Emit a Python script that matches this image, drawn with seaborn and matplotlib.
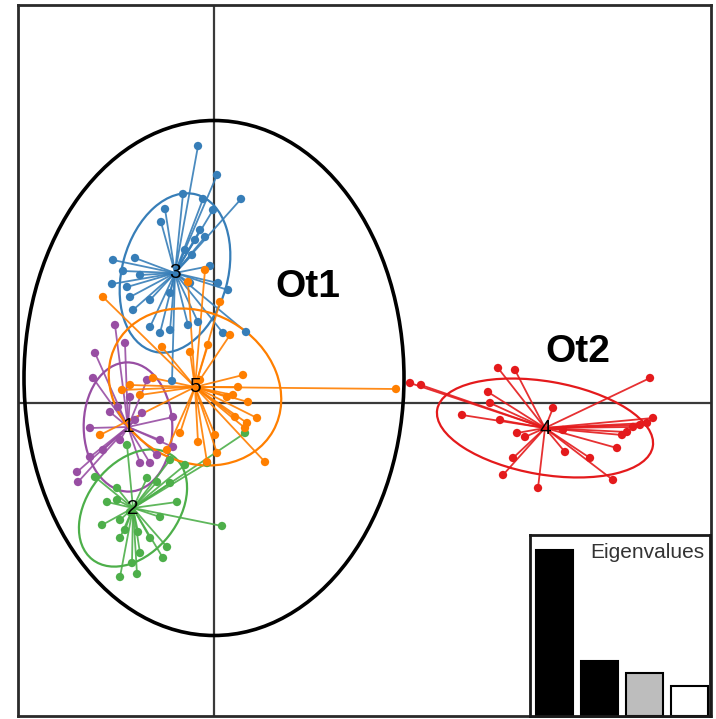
import matplotlib
matplotlib.use("Agg")
import matplotlib.pyplot as plt
from matplotlib.patches import Ellipse
import seaborn as sns
import numpy as np
import pandas as pd

# DAPC scores (LD1, LD2) per group
g1_x = [-11.9, -8.9, -9.9, -12.1, -6.7, -12.4, -4.1, -4.1, -12.4, -13.7, -13.6, -11.1,
        -10.4, -7.2, -5.4, -7.4, -5.7, -9.6, -8.4, -6.4, -9.4, -7.9]
g1_y = [5.0, 6.0, 7.8, 2.5, 2.3, -2.5, -1.4, -4.4, -5.4, -6.9, -7.9, -4.7,
        -0.9, -1.0, -3.7, -6.0, -5.2, -0.4, 0.6, -6.0, -3.7, -1.7]

g2_x = [-9.4, -7.7, -8.2, -5.1, -4.7, -6.4, -11.2, -10.7, -9.7, -3.7, -5.4, 0.8, -11.9, -4.4,
        -2.9, 3.1, -0.7, -8.9, -7.6, -9.4, -8.7, -6.7, -5.7, -9.7, -8.4, -9.4, -7.4, -4.4]
g2_y = [-17.4, -17.1, -16.0, -15.5, -14.4, -13.5, -12.2, -9.9, -9.7, -9.9, -11.4, -12.3, -7.4, -5.7,
        -6.2, -3.0, -6.0, -12.7, -12.9, -13.5, -4.2, -7.5, -7.9, -8.5, -10.9, -11.7, -15.0, -8.0]

g3_x = [-1.6, 0.3, 2.7, -3.1, -1.1, -4.9, -5.3, -0.1, -1.4, -0.9, -1.9, -10.1, -9.1, -7.9, -10.2,
        -8.7, -7.4, -0.4, 0.4, 1.4, -8.4, -6.4, -4.4, -2.4, -8.1, -6.4, -5.4, -4.4, -2.6, -1.6,
        0.9, -4.2, 3.2, -2.9, -2.2]
g3_y = [25.7, 22.8, 20.4, 20.9, 20.4, 19.4, 18.1, 19.3, 17.3, 16.6, 16.3, 14.3, 13.2, 14.5, 11.9,
        11.6, 12.8, 13.7, 12.0, 11.3, 10.6, 10.3, 11.0, 12.0, 9.3, 7.6, 7.0, 7.3, 7.8, 8.1,
        7.0, 2.2, 7.1, 15.3, 14.8]

g4_x = [19.6, 20.7, 28.4, 30.1, 27.4, 27.6, 24.8, 28.6, 33.9, 30.3, 31.1, 43.6, 43.9, 43.3,
        41.3, 40.8, 40.3, 35.1, 37.6, 39.9, 29.9, 28.9, 32.4, 34.9, 41.9, 42.6]
g4_y = [2.0, 1.8, 3.5, 3.3, 1.1, 0.0, -1.2, -1.7, -0.5, -3.0, -3.4, 2.5, -1.5, -2.0,
        -2.9, -3.2, -4.5, -4.9, -5.5, -7.7, -5.5, -7.2, -8.5, -2.7, -2.4, -2.2]

g5_x = [-11.1, 0.6, -0.9, -2.6, 18.2, 2.9, 3.4, 1.9, 2.1, 3.3, 4.3, 3.1, 0.1, 0.3, -0.7, -1.6,
        -3.4, 5.1, -4.7, -5.2, -0.6, -2.4, -9.2, -6.1, -1.4, 1.3, 2.4, -11.4, -7.4, -8.4, 1.6]
g5_y = [10.6, 10.1, 13.3, 12.1, 1.4, 2.8, 0.1, 0.8, -1.4, -2.0, -1.5, -2.5, -3.2, -5.0, -5.9, -3.9,
        -3.0, -5.9, -4.7, 5.6, 5.8, 5.1, 1.3, 2.5, 2.3, 0.6, 1.6, -3.2, 0.8, 1.8, 6.8]

groups = ["1", "2", "3", "4", "5"]
centroid_x = [-8.6, -8.1, -3.9, 33.1, -1.9]
centroid_y = [-2.4, -10.5, 13.0, -2.5, 1.6]

eigenvalues = [100, 33, 26, 18]

all_x = [g1_x, g2_x, g3_x, g4_x, g5_x]
all_y = [g1_y, g2_y, g3_y, g4_y, g5_y]
df = pd.concat([pd.DataFrame({"LD1": x, "LD2": y, "grp": g})
                for x, y, g in zip(all_x, all_y, groups)], ignore_index=True)

set1 = sns.color_palette("Set1")
colors = {"1": set1[3], "2": set1[2], "3": set1[1], "4": set1[0], "5": set1[4]}

sns.set_style("white")
plt.rcParams["font.family"] = ["Liberation Sans", "DejaVu Sans"]

fig = plt.figure(figsize=(7.16, 7.19), dpi=100)
ax = fig.add_axes([18 / 716, 3 / 719, 693 / 716, 711 / 719])

ax.axhline(0, color="#3a3a3a", lw=1.6, zorder=1)
ax.axvline(0, color="#3a3a3a", lw=1.6, zorder=1)

# star lines and ellipses per group
for g, cx, cy in zip(groups, centroid_x, centroid_y):
    sub = df[df.grp == g]
    c = colors[g]
    for px, py in zip(sub.LD1, sub.LD2):
        ax.plot([cx, px], [cy, py], color=c, lw=1.3, alpha=0.9, zorder=2)
    cov = np.cov(sub.LD1, sub.LD2)
    vals, vecs = np.linalg.eigh(cov)
    angle = np.degrees(np.arctan2(vecs[1, 1], vecs[0, 1]))
    ell = Ellipse((cx, cy), 2 * 1.5 * np.sqrt(vals[1]), 2 * 1.5 * np.sqrt(vals[0]),
                  angle=angle, fill=False, edgecolor=c, lw=1.6, zorder=2)
    ax.add_patch(ell)

sns.scatterplot(data=df, x="LD1", y="LD2", hue="grp", palette=colors, s=36,
                edgecolor="none", legend=False, ax=ax, zorder=3)

for g, cx, cy in zip(groups, centroid_x, centroid_y):
    ax.text(cx, cy, g, fontsize=15, ha="center", va="center", color="black", zorder=4)

# big group ellipse Ot1
ax.add_patch(Ellipse((0, 2.5), 38, 51.5, fill=False, edgecolor="black", lw=2.6, zorder=5))
ax.text(9.4, 11.6, "Ot1", fontsize=28, fontweight="bold", ha="center", va="center", color="black")
ax.text(36.4, 5.1, "Ot2", fontsize=28, fontweight="bold", ha="center", va="center", color="black")

ax.set_xlim(-19.6, 49.7)
ax.set_ylim(-31.3, 39.8)
ax.set_xticks([])
ax.set_yticks([])
ax.set_xlabel("")
ax.set_ylabel("")
for sp in ax.spines.values():
    sp.set_color("#2a2a2a")
    sp.set_linewidth(2)

# eigenvalue inset
ins = fig.add_axes([530 / 716, 3 / 719, 180 / 716, 181 / 719])
sns.barplot(x=list(range(len(eigenvalues))), y=eigenvalues,
            palette=["black", "black", "#bdbdbd", "white"], hue=list(range(len(eigenvalues))),
            legend=False, edgecolor="black", linewidth=1.5, width=0.82, ax=ins)
ins.set_xlim(-0.55, 3.45)
ins.set_ylim(0, 109)
ins.set_xticks([])
ins.set_yticks([])
ins.set_xlabel("")
ins.set_ylabel("")
for sp in ins.spines.values():
    sp.set_color("#1a1a1a")
    sp.set_linewidth(2)
ins.text(0.97, 0.905, "Eigenvalues", transform=ins.transAxes, ha="right", va="center",
         fontsize=15, color="#333333")

fig.savefig("out.png", dpi=100)
